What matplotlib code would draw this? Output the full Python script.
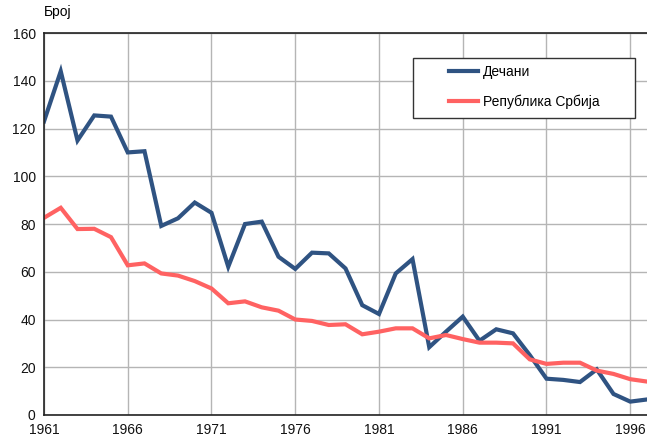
import matplotlib.pyplot as plt
from matplotlib.patches import Rectangle

plt.rcParams['font.family'] = ['Liberation Sans', 'DejaVu Sans']

years = list(range(1961, 1998))
decani = [123, 144, 115, 125.5, 125, 110, 110.5, 79.2, 82.4, 89, 84.7, 62.1, 80, 81,
          66.3, 61.2, 68, 67.7, 61.4, 46, 42.3, 59.3, 65.3, 28.4, 34.9, 41.2, 31.1,
          35.9, 34.2, 25.1, 15.2, 14.7, 13.8, 19.1, 8.8, 5.6, 6.5]
srbija = [82.6, 86.8, 77.9, 78, 74.5, 62.7, 63.5, 59.3, 58.4, 56.1, 53, 46.8, 47.6,
          45.1, 43.7, 40, 39.4, 37.7, 38, 33.8, 34.9, 36.3, 36.3, 32.1, 33.5, 31.8,
          30.3, 30.3, 30, 23.3, 21.4, 21.9, 21.9, 18.6, 17.2, 15, 14]
xticks = list(range(1961, 1997, 5))
yticks = list(range(0, 161, 20))

fig = plt.figure(figsize=(6.47, 4.41), dpi=100)
ax = fig.add_axes([0.068, 0.059, 0.932, 0.866])

ax.plot(years, decani, color='#2f5382', lw=3, label='Дечани', solid_joinstyle='miter')
ax.plot(years, srbija, color='#ff6262', lw=3, label='Република Србија', solid_joinstyle='miter')

ax.set_xlim(1961, 1997)
ax.set_ylim(0, 160)
ax.set_xticks(xticks)
ax.set_yticks(yticks)
ax.tick_params(length=0, labelsize=10, colors='#111111', pad=6)
ax.grid(True, color='#b5b5b5', lw=1)
ax.set_axisbelow(True)
for s in ['left', 'bottom', 'top']:
    ax.spines[s].set_color('#222222')
    ax.spines[s].set_linewidth(1.2)
ax.spines['right'].set_visible(False)

# legend frame drawn separately (wide box with large left padding)
fig.patches.append(Rectangle((0.638, 0.7324), 0.343, 0.136, transform=fig.transFigure,
                             facecolor='white', edgecolor='#333333', lw=1, zorder=3))
leg = fig.legend(loc='upper left', bbox_to_anchor=(0.694, 0.852), fontsize=10,
                 frameon=False, handlelength=2.1, handletextpad=0.35,
                 labelspacing=1.1, borderpad=0, borderaxespad=0)
leg.set_zorder(4)

fig.text(0.068, 0.972, 'Број', fontsize=10, va='center', ha='left')

fig.savefig('out.png', dpi=100)
